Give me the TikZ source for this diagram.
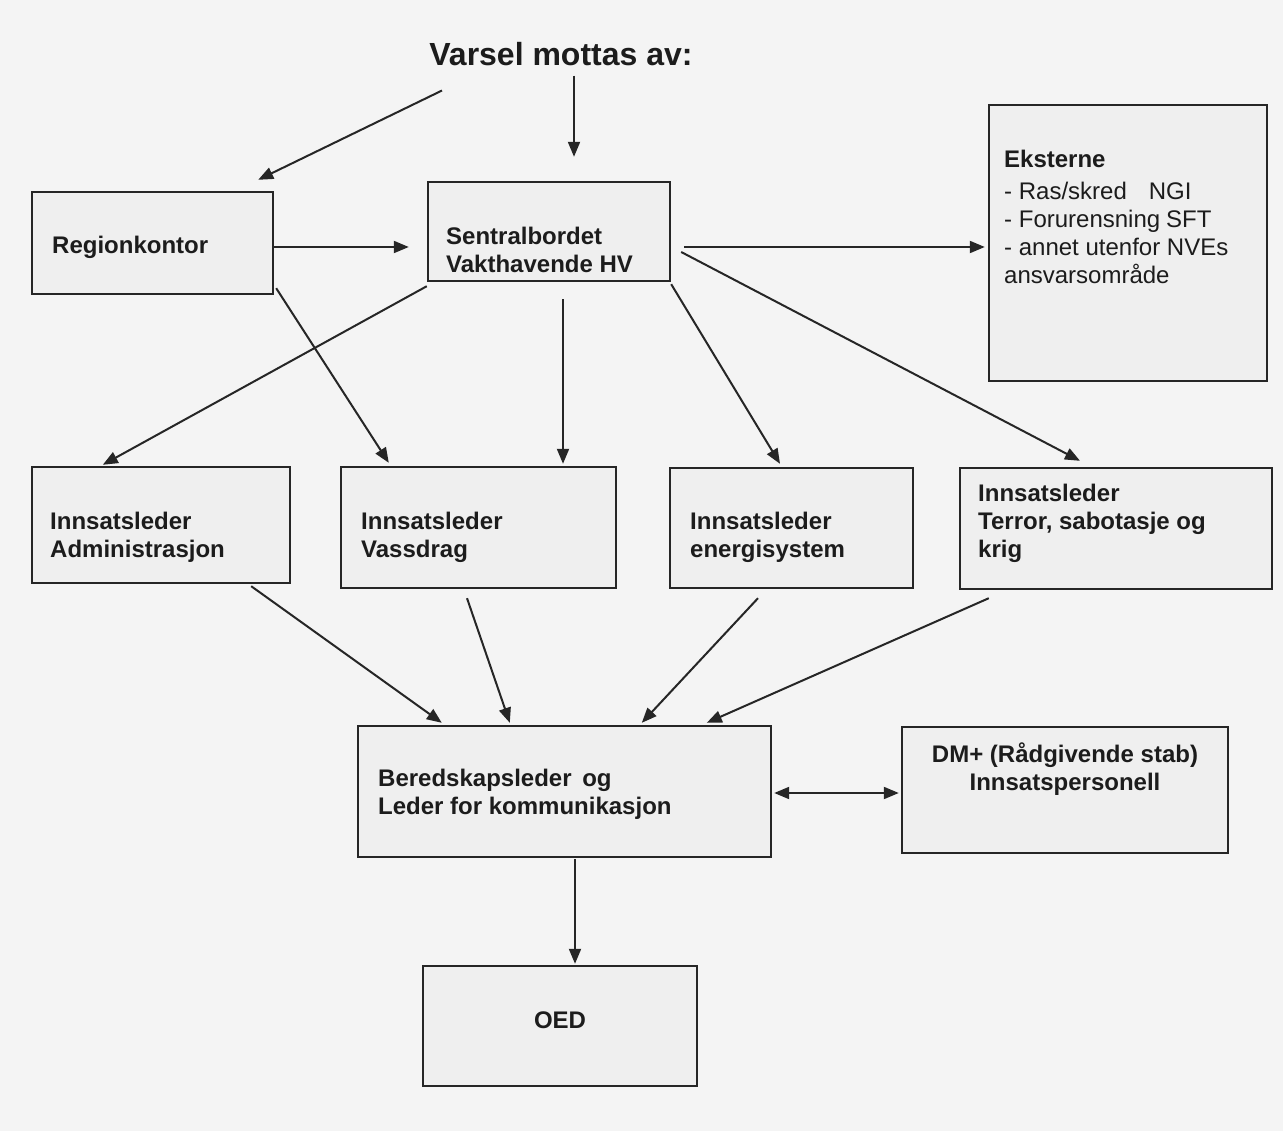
\documentclass[tikz,border=0pt]{standalone}
\usepackage{fontspec}
\setmainfont{Liberation Sans}
\usetikzlibrary{arrows.meta,calc}
\definecolor{bgcol}{HTML}{F4F4F4}
\definecolor{boxfill}{HTML}{EFEFEF}
\definecolor{linecol}{HTML}{262626}
\definecolor{txtcol}{HTML}{1C1C1C}
\begin{document}
\begin{tikzpicture}[x=1pt,y=-1pt,
  box/.style={draw=linecol,line width=2.4pt,fill=boxfill,inner sep=0pt},
  txt/.style={inner sep=0pt,anchor=north west,align=left,text=txtcol,
    font=\fontsize{24}{28}\selectfont\bfseries},
  ctxt/.style={txt,anchor=north,align=center},
  arr/.style={draw=linecol,line width=2pt,-{Triangle[length=15pt,width=12pt]}},
  darr/.style={draw=linecol,line width=2pt,{Triangle[length=15pt,width=12pt]}-{Triangle[length=15pt,width=12pt]}}]
\fill[bgcol] (0,0) rectangle (1283,1131);
\useasboundingbox (0,0) rectangle (1283,1131);

% title
\node[inner sep=0pt,anchor=base,text=txtcol,font=\fontsize{32}{36}\selectfont\bfseries] (title) at (561,66) {Varsel mottas av:};

% boxes
\node[box,minimum width=241pt,minimum height=102pt] (reg) at (152.5,243) {};
\node[box,minimum width=242pt,minimum height=99pt] (sent) at (549,231.5) {};
\node[box,minimum width=278pt,minimum height=276pt] (ext) at (1128,243) {};
\node[box,minimum width=258pt,minimum height=116pt] (adm) at (161,525) {};
\node[box,minimum width=275pt,minimum height=121pt] (vas) at (478.5,527.5) {};
\node[box,minimum width=243pt,minimum height=120pt] (ene) at (791.5,528) {};
\node[box,minimum width=312pt,minimum height=121pt] (ter) at (1116,528.5) {};
\node[box,minimum width=413pt,minimum height=131pt] (ber) at (564.5,791.5) {};
\node[box,minimum width=326pt,minimum height=126pt] (dm) at (1065,790) {};
\node[box,minimum width=274pt,minimum height=120pt] (oed) at (560,1026) {};

% texts
\node[txt] (regt) at (52,236) {Regionkontor};
\node[txt] (sentt) at (446,227) {Sentralbordet\\Vakthavende HV};
\node[txt] (extt) at (1004,150) {Eksterne\\[4pt]\mdseries - Ras/skred\hspace{22pt}NGI\\\mdseries - Forurensning\hspace{6pt}SFT\\\mdseries - annet utenfor NVEs\\\mdseries ansvarsområde};
\node[txt] (admt) at (50,512) {Innsatsleder\\Administrasjon};
\node[txt] (vast) at (361,512) {Innsatsleder\\Vassdrag};
\node[txt] (enet) at (690,512) {Innsatsleder\\energisystem};
\node[txt] (tert) at (978,484) {Innsatsleder\\Terror, sabotasje og\\krig};
\node[txt] (bert) at (378,769) {Beredskapsleder\, og\\Leder for kommunikasjon};
\node[ctxt] (dmt) at (1065,743) {DM+ (Rådgivende stab)\\Innsatspersonell};
\node[ctxt] (oedt) at (560,1012) {OED};

% connectors
\draw[arr] ($(title.south)+(-119,24)$) -- ($(reg.north east)+(-16,-11)$);
\draw[arr] ($(title.south)+(13,9)$) -- ($(sent.north)+(25,-24)$);
\draw[arr] ($(reg.east)+(0,4)$) -- ($(sent.west)+(-18,15.5)$);
\draw[arr] ($(sent.east)+(13,15.5)$) -- ($(ext.west)+(-3,4)$);
\draw[arr] ($(reg.south east)+(2,-7)$) -- ($(vas.north west)+(49,-3)$);
\draw[arr] ($(sent.south west)+(0,4)$) -- ($(adm.north west)+(72,-1)$);
\draw[arr] ($(sent.south)+(14,17)$) -- ($(vas.north)+(84.5,-2)$);
\draw[arr] ($(sent.south east)+(0,2)$) -- ($(ene.north)+(-11.5,-3)$);
\draw[arr] ($(sent.east)+(10,20.5)$) -- ($(ter.north)+(-36,-6)$);
\draw[arr] ($(adm.south east)+(-40,2)$) -- ($(ber.north west)+(85,-2)$);
\draw[arr] ($(vas.south)+(-11.5,9)$) -- ($(ber.north west)+(153,-2)$);
\draw[arr] ($(ene.south)+(-33.5,9)$) -- ($(ber.north west)+(285,-2)$);
\draw[arr] ($(ter.south west)+(30,8)$) -- ($(ber.north west)+(350,-2)$);
\draw[darr] ($(ber.east)+(2,1.5)$) -- ($(dm.west)+(-2,3)$);
\draw[arr] ($(ber.south)+(10.5,1)$) -- ($(oed.north)+(15,-1)$);
\end{tikzpicture}
\end{document}
